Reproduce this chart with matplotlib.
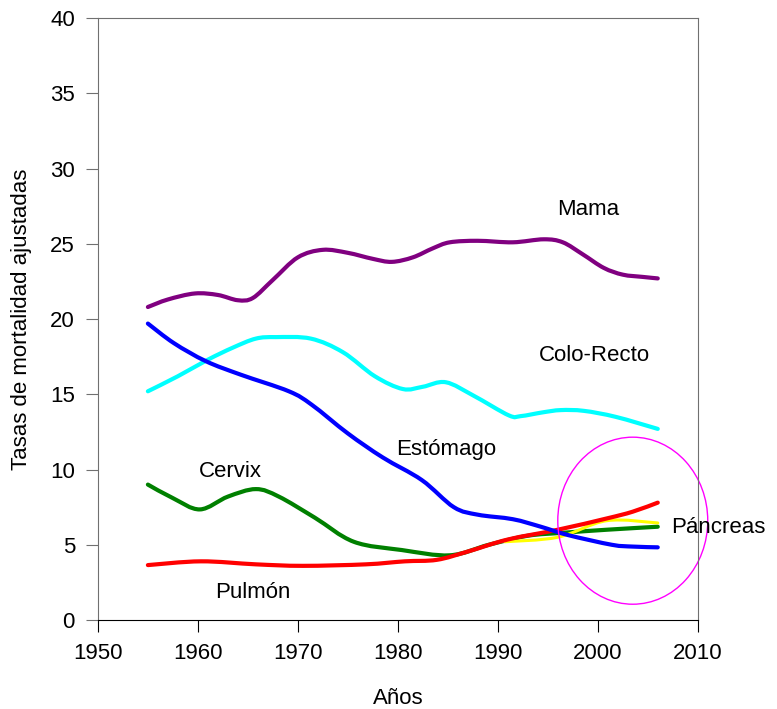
import matplotlib.pyplot as plt
from matplotlib.patches import Ellipse, PathPatch
from matplotlib.path import Path

plt.rcParams['font.family'] = ['Liberation Sans', 'DejaVu Sans']

# Mama
mama_x = [1955, 1957, 1959.7, 1962, 1964, 1965.5, 1967.5, 1970, 1972.5, 1975, 1977.5, 1979.4,
          1981.5, 1983.5, 1985.2, 1988, 1991.5, 1994.6, 1996.5, 1998.5, 2000.6, 2002.5, 2004.5, 2006]
mama_y = [20.8, 21.3, 21.7, 21.6, 21.25, 21.4, 22.6, 24.1, 24.6, 24.4, 24.0, 23.8,
          24.1, 24.7, 25.1, 25.2, 25.1, 25.3, 25.1, 24.3, 23.4, 22.95, 22.8, 22.7]

# Colo-Recto
colo_x = [1955, 1958, 1961, 1963.5, 1965.8, 1967.8, 1971.3, 1974.5, 1977.7, 1980.5, 1982.5,
          1984.8, 1987.6, 1991.1, 1992.3, 1994.5, 1996.3, 1998.6, 2001.8, 2006]
colo_y = [15.2, 16.2, 17.3, 18.1, 18.7, 18.8, 18.7, 17.8, 16.2, 15.35, 15.5,
          15.8, 14.9, 13.6, 13.55, 13.8, 13.95, 13.9, 13.5, 12.7]

# Estomago
esto_x = [1955, 1957.6, 1960.8, 1964.3, 1969.1, 1971.4, 1975, 1978.5, 1982.4, 1985.6, 1988,
          1991.5, 1994.3, 1997, 2001.4, 2003.5, 2006]
esto_y = [19.7, 18.4, 17.2, 16.3, 15.2, 14.3, 12.4, 10.8, 9.3, 7.5, 7.0,
          6.7, 6.2, 5.65, 5.0, 4.88, 4.83]

# Cervix
cerv_x = [1955, 1957.5, 1960.2, 1963, 1965.8, 1968.1, 1971.7, 1975.6, 1980.4, 1985.2,
          1989.1, 1993, 1996.6, 2000.9, 2006]
cerv_y = [9.0, 8.1, 7.35, 8.2, 8.7, 8.2, 6.8, 5.2, 4.65, 4.3,
          5.0, 5.6, 5.8, 6.0, 6.2]

# Pulmon
pulm_x = [1955, 1960.3, 1965.8, 1970.5, 1976.8, 1980.7, 1983.9, 1987, 1991, 1996, 2000.9, 2003.5, 2006]
pulm_y = [3.65, 3.9, 3.7, 3.6, 3.7, 3.9, 4.0, 4.55, 5.35, 6.0, 6.75, 7.2, 7.8]

# Pancreas
panc_x = [1990.7, 1996, 2000.9, 2006]
panc_y = [5.2, 5.5, 6.6, 6.45]


def smooth_line(ax, xs, ys, color, lw):
    # Excel-like smoothed line: Catmull-Rom through the points as cubic Beziers
    pts = list(zip(xs, ys))
    n = len(pts)
    verts = [pts[0]]
    codes = [Path.MOVETO]
    for i in range(n - 1):
        p0 = pts[max(i - 1, 0)]
        p1 = pts[i]
        p2 = pts[i + 1]
        p3 = pts[min(i + 2, n - 1)]
        c1 = (p1[0] + (p2[0] - p0[0]) / 6, p1[1] + (p2[1] - p0[1]) / 6)
        c2 = (p2[0] - (p3[0] - p1[0]) / 6, p2[1] - (p3[1] - p1[1]) / 6)
        verts += [c1, c2, p2]
        codes += [Path.CURVE4] * 3
    patch = PathPatch(Path(verts, codes), fill=False, edgecolor=color, lw=lw,
                      capstyle='round', joinstyle='round')
    ax.add_patch(patch)


fig = plt.figure(figsize=(7.77, 7.09), dpi=100)
ax = fig.add_axes([0.126, 0.1255, 0.772, 0.849])

lw = 3.0
smooth_line(ax, mama_x, mama_y, '#800080', lw)
smooth_line(ax, colo_x, colo_y, '#00FFFF', lw)
smooth_line(ax, cerv_x, cerv_y, '#008000', lw)
smooth_line(ax, panc_x, panc_y, '#FFFF00', 2.2)
smooth_line(ax, pulm_x, pulm_y, '#FF0000', lw)
smooth_line(ax, esto_x, esto_y, '#0000FF', lw)

circle = Ellipse((2003.5, 6.6), 15, 11.1, fill=False, edgecolor='#FF00FF',
                 lw=1.0, clip_on=False)
ax.add_patch(circle)

fs = 16
ax.text(1999, 27.3, 'Mama', fontsize=fs, ha='center', va='center')
ax.text(1999.7, 17.6, 'Colo-Recto', fontsize=fs, ha='center', va='center')
ax.text(1984.8, 11.3, 'Estómago', fontsize=fs, ha='center', va='center')
ax.text(1963.3, 9.9, 'Cervix', fontsize=fs, ha='center', va='center')
ax.text(1965.5, 1.85, 'Pulmón', fontsize=fs, ha='center', va='center')
ax.text(2007.3, 6.15, 'Páncreas', fontsize=fs, ha='left', va='center', clip_on=False)

ax.set_xlim(1950, 2010)
ax.set_ylim(0, 40)
ax.set_xticks(range(1950, 2011, 10))
ax.set_yticks(range(0, 41, 5))
ax.tick_params(direction='out', length=8.5, pad=8, labelsize=fs)
ax.tick_params(axis='y', colors='#707070', labelcolor='black')
ax.set_xlabel('Años', fontsize=fs, labelpad=17)
ax.set_ylabel('Tasas de mortalidad ajustadas', fontsize=fs, labelpad=13)
for s in ['top', 'right', 'left']:
    ax.spines[s].set_color('#707070')

fig.savefig('out.png', dpi=100)
